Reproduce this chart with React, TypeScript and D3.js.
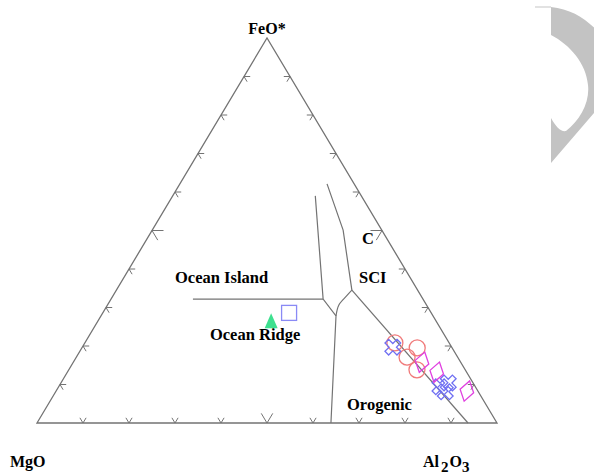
import React, { useEffect, useRef } from 'react';
import * as d3 from 'd3';

// ternary values in percent: [FeO*, Al2O3] (MgO is the rest)
const oceanIslandLine = [[32.2, 17.8], [32.2, 46.1]];
const leftBoundary = [[59.0, 31.0], [32.2, 46.1], [27.8, 51.1], [0, 63.9]];
const rightBoundary = [[62.1, 32.0], [50.1, 41.5], [34.5, 51.2]];
const joinCurve = [[34.5, 51.2], [33.0, 50.8], [30.6, 50.3], [27.8, 51.1]];
const orogenicLine = [[34.5, 51.2], [0, 93.7]];

const tickValues = [10, 20, 30, 40, 50, 60, 70, 80, 90];

const ridgeTriangle = [[26.2, 37.8]];
const ridgeSquare = [[28.6, 40.5]];
const redCircles = [[20.8, 67.4], [19.5, 72.9], [17.1, 71.9], [13.8, 75.7]];
const blueCrosses = [[19.7, 67.5], [9.4, 82.9], [8.1, 84.7], [10.4, 84.2]];
const diamonds = [[15.8, 75.8], [13.2, 80.3], [8.3, 89.3]];

const fieldLabels = [
  { text: 'Ocean Island', f: 36.4, a: 11.8 },
  { text: 'Ocean Ridge', f: 21.6, a: 26.8 },
  { text: 'SCI', f: 36.4, a: 51.8 },
  { text: 'C', f: 46.5, a: 47.4 },
  { text: 'Orogenic', f: 3.4, a: 65.7 },
];

const App = () => {
  const ref = useRef<SVGSVGElement>(null);

  useEffect(() => {
    const svg = d3.select(ref.current);
    svg.selectAll('*').remove();

    const xs = d3.scaleLinear().domain([0, 100]).range([37, 497]);
    const ys = d3.scaleLinear().domain([0, 100]).range([423, 38]);
    const px = (d: number[]) => xs(d[1] + d[0] / 2);
    const py = (d: number[]) => ys(d[0]);
    const line = d3.line<number[]>().x(px).y(py);
    const curve = d3.line<number[]>().x(px).y(py).curve(d3.curveCatmullRom);
    const grey = '#737373';
    const font = '"Liberation Serif", "Times New Roman", serif';

    // decoration top right
    svg.append('path')
      .attr('d', 'M551,7 C572,9 588,20 600,34 L600,106 L551,163 L551,118 C556,127 561,132 566,131 C580,120 590,102 588,85 C586,63 570,45 551,35 Z')
      .attr('fill', '#c3c3c3');
    svg.append('line')
      .attr('x1', 535).attr('x2', 551).attr('y1', 7).attr('y2', 7)
      .attr('stroke', '#d8d8d8').attr('stroke-width', 1.5);

    // triangle
    svg.append('path')
      .attr('d', line([[0, 0], [100, 0], [0, 100]])! + 'Z')
      .attr('fill', 'none').attr('stroke', grey).attr('stroke-width', 1.3);

    // ticks
    const tg = svg.append('g').attr('fill', 'none').attr('stroke', grey).attr('stroke-width', 1);
    tickValues.forEach((t) => {
      const d = t === 50 ? 2.5 : 1.35;
      tg.append('path').attr('d', line([[d, t], [0, t], [d, t - d]]));
      tg.append('path').attr('d', line([[t, d], [t, 0], [t - d, d]]));
      tg.append('path').attr('d', line([[t, 100 - t - d], [t, 100 - t], [t - d, 100 - t]]));
    });

    // field boundaries
    const bg = svg.append('g').attr('fill', 'none').attr('stroke', grey).attr('stroke-width', 1.2);
    [oceanIslandLine, leftBoundary, rightBoundary, orogenicLine].forEach((l) => {
      bg.append('path').attr('d', line(l));
    });
    bg.append('path').attr('d', curve(joinCurve));

    // field labels
    svg.append('g').selectAll('text').data(fieldLabels).join('text')
      .attr('x', (d) => px([d.f, d.a]))
      .attr('y', (d) => py([d.f, d.a]))
      .attr('font-family', font).attr('font-weight', 'bold').attr('font-size', 16.5)
      .text((d) => d.text);

    // apex labels
    const lab = svg.append('g').attr('font-family', font).attr('font-weight', 'bold').attr('font-size', 16);
    lab.append('text').attr('x', 267).attr('y', 34).attr('text-anchor', 'middle').text('FeO*');
    lab.append('text').attr('x', 10).attr('y', 467).text('MgO');
    const al = lab.append('text').attr('x', 423).attr('y', 467);
    al.append('tspan').text('Al');
    al.append('tspan').attr('dy', 5).attr('dx', 2).attr('font-size', 15).text('2');
    al.append('tspan').attr('dy', -5).attr('dx', 1).text('O');
    al.append('tspan').attr('dy', 5).attr('font-size', 15).text('3');

    // samples
    const mg = svg.append('g').attr('fill', 'none').attr('stroke-width', 1.3);
    mg.selectAll('.tri').data(ridgeTriangle).join('path')
      .attr('d', 'M0,-9 L6.5,6 L-6.5,6 Z')
      .attr('transform', (d) => `translate(${px(d)},${py(d)})`)
      .attr('fill', '#3ee08f').attr('stroke', 'none');
    mg.selectAll('.sq').data(ridgeSquare).join('rect')
      .attr('x', (d) => px(d) - 7.5).attr('y', (d) => py(d) - 7.5)
      .attr('width', 15).attr('height', 15)
      .attr('stroke', '#8a8af5');
    mg.selectAll('.ci').data(redCircles).join('circle')
      .attr('cx', px).attr('cy', py).attr('r', 8)
      .attr('stroke', '#f07a7a');
    const w = 2.6, L = 8.5;
    const cross = `M${-w},${-L} L${w},${-L} L${w},${-w} L${L},${-w} L${L},${w} L${w},${w} L${w},${L} L${-w},${L} L${-w},${w} L${-L},${w} L${-L},${-w} L${-w},${-w} Z`;
    mg.selectAll('.cr').data(blueCrosses).join('path')
      .attr('d', cross)
      .attr('transform', (d) => `translate(${px(d)},${py(d)}) rotate(45)`)
      .attr('stroke', '#6f6ff2');
    mg.selectAll('.di').data(diamonds).join('path')
      .attr('d', 'M0,-10.5 L7,0 L0,10.5 L-7,0 Z')
      .attr('transform', (d) => `translate(${px(d)},${py(d)}) rotate(15)`)
      .attr('stroke', '#e040e0');
  }, []);

  return (
    <svg ref={ref} width={594} height={476}
      style={{ position: 'fixed', left: 0, top: 0, background: '#fff' }} />
  );
};

export default App;
